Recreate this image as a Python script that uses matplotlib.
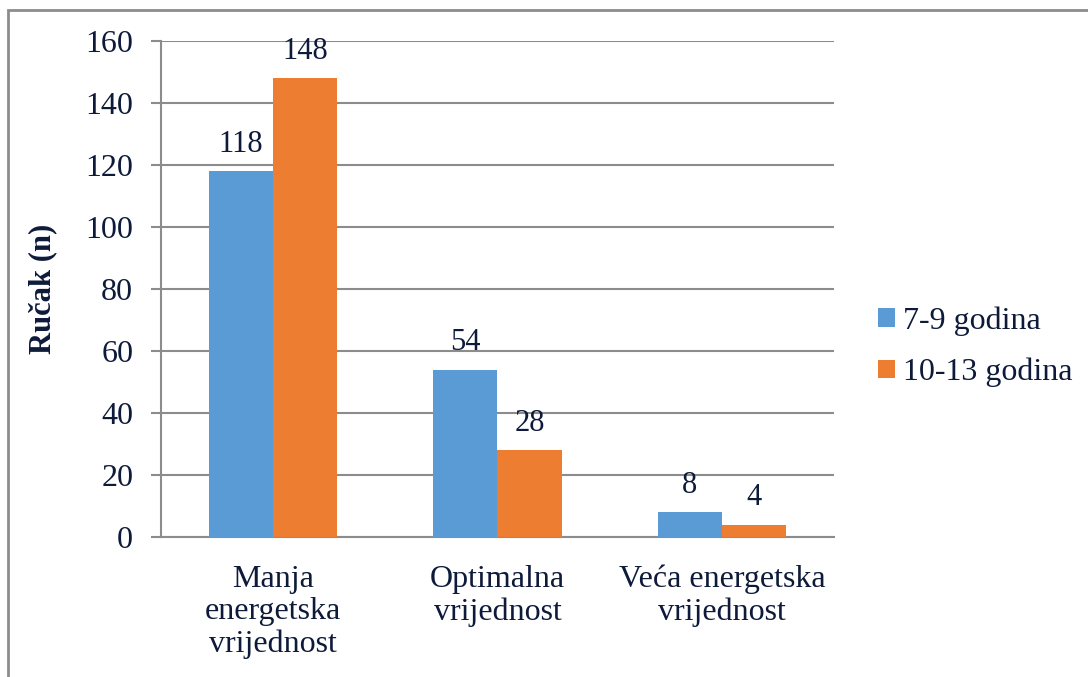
import matplotlib
matplotlib.use("Agg")
import matplotlib.pyplot as plt
import numpy as np
from matplotlib.patches import Rectangle

categories = ["Manja\nenergetska\nvrijednost", "Optimalna\nvrijednost", "Veća energetska\nvrijednost"]
series_names = ["7-9 godina", "10-13 godina"]
values_7_9 = [118, 54, 8]
values_10_13 = [148, 28, 4]
yticks = [0, 20, 40, 60, 80, 100, 120, 140, 160]

blue = "#5B9BD5"
orange = "#ED7D31"
txt = "#0D1A3A"
grid = "#8C8C8C"

plt.rcParams['font.family'] = ['Liberation Serif', 'DejaVu Serif']

W, H = 1088, 677
fig = plt.figure(figsize=(W/100, H/100), dpi=100)
ax = fig.add_axes([161/W, 1-537/H, (834-161)/W, (537-41)/H])

x = np.arange(len(categories))
bw = 0.286
b1 = ax.bar(x - bw/2, values_7_9, bw, color=blue, label=series_names[0], zorder=3)
b2 = ax.bar(x + bw/2, values_10_13, bw, color=orange, label=series_names[1], zorder=3)

for bars, vals in ((b1, values_7_9), (b2, values_10_13)):
    for r, v in zip(bars, vals):
        ax.annotate(str(v), (r.get_x() + r.get_width()/2, v), xytext=(0, 9),
                    textcoords="offset points", ha="center", va="bottom",
                    fontsize=22, color=txt)

ax.set_xlim(-0.5, 2.5)
ax.set_ylim(0, 160)
ax.set_yticks(yticks)
ax.set_yticklabels([str(t) for t in yticks], fontsize=23, color=txt)
ax.set_xticks(x)
ax.set_xticklabels(categories, fontsize=23, color=txt, linespacing=1.15)
ax.tick_params(axis='y', length=7, width=1.5, color=grid, pad=13)
ax.tick_params(axis='x', length=0, pad=20)
ax.yaxis.grid(True, color=grid, linewidth=1.5, zorder=0)
for s in ["top", "right"]:
    ax.spines[s].set_visible(False)
for s in ["left", "bottom"]:
    ax.spines[s].set_color(grid)
    ax.spines[s].set_linewidth(1.5)

ax.set_ylabel("Ručak (n)", fontsize=22, fontweight="bold", color=txt, labelpad=20)

leg = fig.legend(handles=[b1, b2], labels=series_names, loc="center left",
                 bbox_to_anchor=(878/W, 1-347/H), frameon=False, fontsize=23,
                 handlelength=0.53, handleheight=0.53, handletextpad=0.25,
                 labelspacing=0.68, labelcolor=txt, borderpad=0, borderaxespad=0)

fig.patches.append(Rectangle((8/W, -0.1), 1.2, 1 - 10/H + 0.1, transform=fig.transFigure,
                             fill=False, edgecolor=grid, linewidth=2))

fig.savefig("out.png", dpi=100)
